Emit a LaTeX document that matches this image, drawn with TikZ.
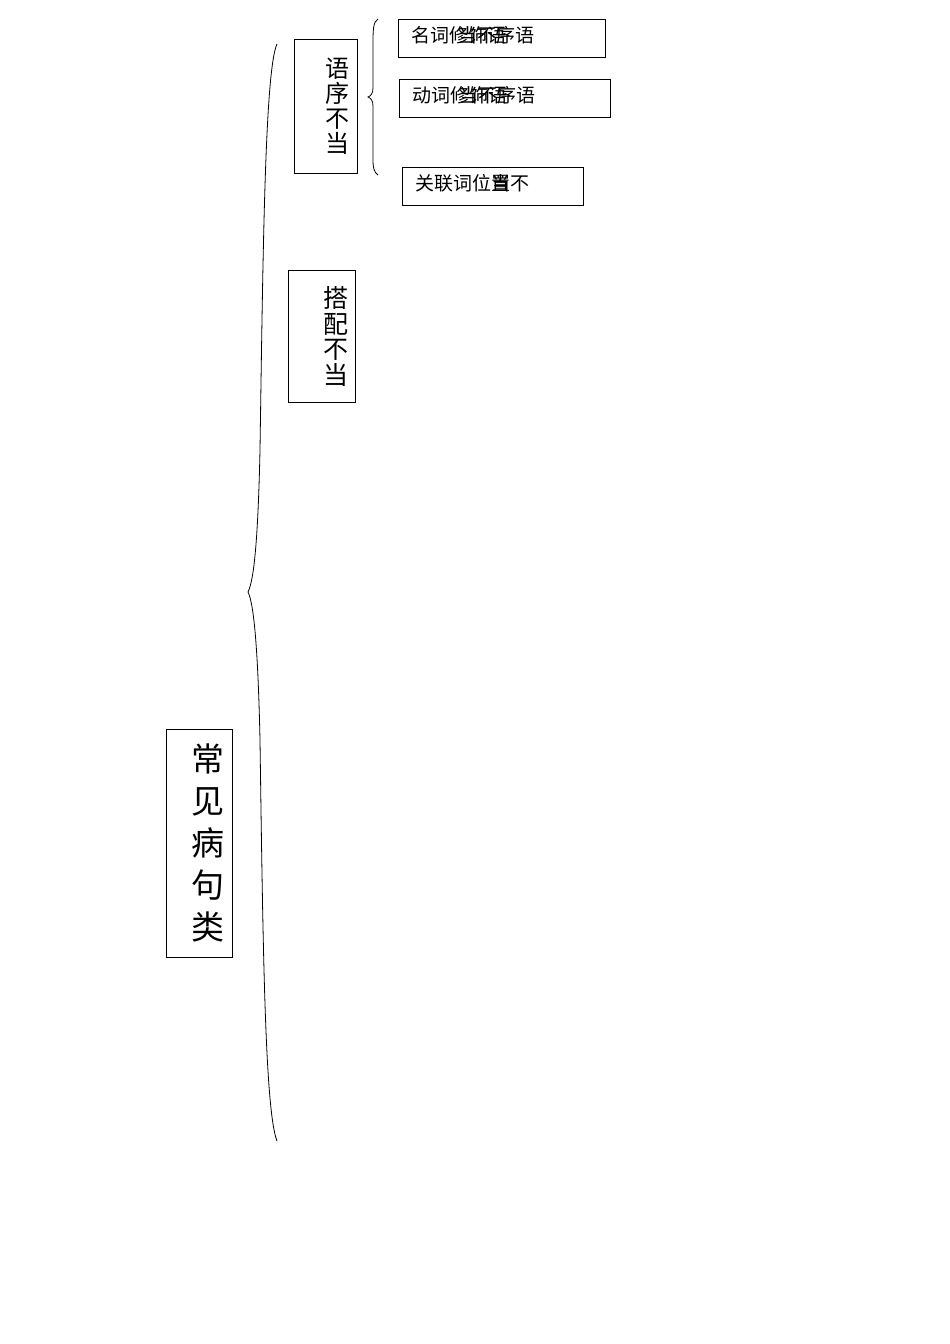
\documentclass[tikz,border=0pt]{standalone}
\usepackage{fontspec}
\newfontfamily\cjk{Noto Sans CJK SC}
\begin{document}
\begin{tikzpicture}[x=1pt,y=-1pt,line width=0.8pt,
  every node/.style={inner sep=0pt,font=\cjk},
  vbox/.style={draw,rectangle,anchor=north west,inner ysep=0pt,align=right},
  hbox/.style={draw,rectangle,anchor=north west,inner xsep=13pt,minimum height=38pt,text depth=8pt,align=left,font=\cjk\fontsize{19}{19}\selectfont}]
\useasboundingbox (0,0) rectangle (950,1344);
% vertical boxes
\node[vbox,inner xsep=8pt,text width=50pt,minimum height=228pt,font=\cjk\fontsize{33}{42}\selectfont] (root) at (166,729) {常\\见\\病\\句\\类};
\node[vbox,inner xsep=8pt,text width=47pt,minimum height=134pt,font=\cjk\fontsize{24}{25}\selectfont] (yuxu) at (294,39) {语\\序\\不\\当};
\node[vbox,inner xsep=7pt,text width=53pt,minimum height=132pt,font=\cjk\fontsize{25}{25.5}\selectfont] (dapei) at (288,270) {搭\\配\\不\\当};
% leaf boxes
\node[hbox,text width=181pt] (mingci) at (398,19) {名词\makebox[0pt][l]{\hspace{0.5em}当不序语}修饰语};
\node[hbox,text width=185pt] (dongci) at (399,79) {动词\makebox[0pt][l]{\hspace{0.5em}当不序语}修饰语};
\node[hbox,text width=155pt] (guanlian) at (402,167) {关联词位\makebox[0pt][l]{当}置不};
% braces
\coordinate (bigtop) at (277,44);
\coordinate (bigtip) at (248,592);
\coordinate (bigbot) at (277,1141);
\draw (bigtop) .. controls (265,70) and (263,250) .. (260,450) .. controls (258,540) and (254,580) .. (bigtip) .. controls (254,604) and (258,650) .. (260,740) .. controls (263,950) and (265,1110) .. (bigbot);
\coordinate (smalltop) at (378,19);
\coordinate (smalltip) at (368,97);
\coordinate (smallbot) at (378,175);
\draw (smalltop) .. controls (373,22) and (373,30) .. (373,45) -- (373,88) .. controls (373,93) and (371,96) .. (smalltip) .. controls (371,98) and (373,101) .. (373,106) -- (373,160) .. controls (373,168) and (374,172) .. (smallbot);
\end{tikzpicture}
\end{document}
